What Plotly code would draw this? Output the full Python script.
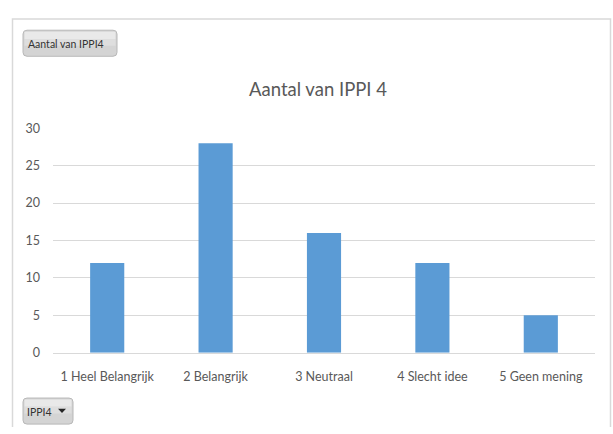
import plotly.graph_objects as go

categories = ["1 Heel Belangrijk", "2 Belangrijk", "3 Neutraal", "4 Slecht idee", "5 Geen mening"]
counts = [12, 28, 16, 12, 5]
y_ticks = [0, 5, 10, 15, 20, 25, 30]
title_text = "Aantal van IPPI 4"
button_text = "Aantal van IPPI4"
filter_text = "IPPI4"

W, H = 613, 434
FONT = "Lato, 'Open Sans', Arial, sans-serif"
GRAY = "#595959"

def px(x):
    return x / W

def py(y):
    return 1 - y / H

fig = go.Figure()
fig.add_trace(go.Bar(x=categories, y=counts, marker=dict(color="#5b9bd5", line=dict(width=0)),
                     hoverinfo="x+y"))

def rounded_rect(x0, y0, x1, y1, r, fill, line):
    p = (f"M {px(x0 + r)},{py(y0)} L {px(x1 - r)},{py(y0)} "
         f"Q {px(x1)},{py(y0)} {px(x1)},{py(y0 + r)} "
         f"L {px(x1)},{py(y1 - r)} Q {px(x1)},{py(y1)} {px(x1 - r)},{py(y1)} "
         f"L {px(x0 + r)},{py(y1)} Q {px(x0)},{py(y1)} {px(x0)},{py(y1 - r)} "
         f"L {px(x0)},{py(y0 + r)} Q {px(x0)},{py(y0)} {px(x0 + r)},{py(y0)} Z")
    return dict(type="path", xref="paper", yref="paper", path=p,
                fillcolor=fill, line=dict(color=line, width=1), layer="above")

shapes = [
    # chart border: left, top and right edges (the bottom edge lies outside the window)
    dict(type="path", xref="paper", yref="paper",
         path=f"M {px(12.5)},{py(434)} L {px(12.5)},{py(11.5)} L {px(610.5)},{py(11.5)} L {px(610.5)},{py(434)}",
         line=dict(color="#d9d9d9", width=1.5), fillcolor="rgba(0,0,0,0)", layer="below"),
]
for (x0, y0, x1, y1) in [(23, 23, 117, 50), (23, 404, 73, 431)]:
    shapes.append(rounded_rect(x0, y0, x1, y1, 4, "#d4d4d4", "#b8b8b8"))
    shapes.append(dict(type="rect", xref="paper", yref="paper", x0=px(x0 + 1.5), x1=px(x1 - 1.5),
                       y0=py(y0 + 1.5), y1=py(y0 + 9), fillcolor="#e9e9e9", line=dict(width=0), layer="above"))
    shapes.append(dict(type="rect", xref="paper", yref="paper", x0=px(x0 + 1.5), x1=px(x1 - 1.5),
                       y0=py(y0 + 9), y1=py(y0 + 16), fillcolor="#dedede", line=dict(width=0), layer="above"))
shapes.append(dict(type="path", xref="paper", yref="paper",
                   path=f"M {px(58)},{py(415)} L {px(66)},{py(415)} L {px(62)},{py(419.5)} Z",
                   fillcolor="#262626", line=dict(width=0), layer="above"))

annotations = [
    dict(text=button_text, x=px(26), y=py(37), xref="paper", yref="paper", xanchor="left", yanchor="middle",
         showarrow=False, font=dict(family=FONT, size=10.5, color="#333333")),
    dict(text=filter_text, x=px(25), y=py(418), xref="paper", yref="paper", xanchor="left", yanchor="middle",
         showarrow=False, font=dict(family=FONT, size=10.5, color="#333333")),
]

fig.update_layout(
    width=W, height=H,
    margin=dict(l=0, r=0, t=0, b=0),
    paper_bgcolor="white", plot_bgcolor="white",
    showlegend=False,
    bargap=0.685,
    title=dict(text=title_text, x=px(318), y=py(84), xanchor="center", yanchor="middle",
               xref="paper", yref="paper",
               font=dict(family=FONT, size=18.5, color=GRAY)),
    xaxis=dict(domain=[px(53), px(595)], type="category", showgrid=False, zeroline=False,
               showline=True, linecolor="#d9d9d9", linewidth=1, ticks="",
               tickfont=dict(family=FONT, size=12.5, color=GRAY), ticklabelstandoff=12,
               fixedrange=True),
    yaxis=dict(domain=[py(357), py(124.5)], range=[0, 30], tickvals=y_ticks,
               showgrid=True, gridcolor="#d9d9d9", gridwidth=1, zeroline=False,
               showline=False, ticks="", tickfont=dict(family=FONT, size=12.5, color=GRAY),
               ticklabelstandoff=12, fixedrange=True),
    shapes=shapes,
    annotations=annotations,
)

fig.write_html("out.html", config={"displayModeBar": False},
               post_script="document.body.style.margin='0';document.body.style.overflow='hidden';")
